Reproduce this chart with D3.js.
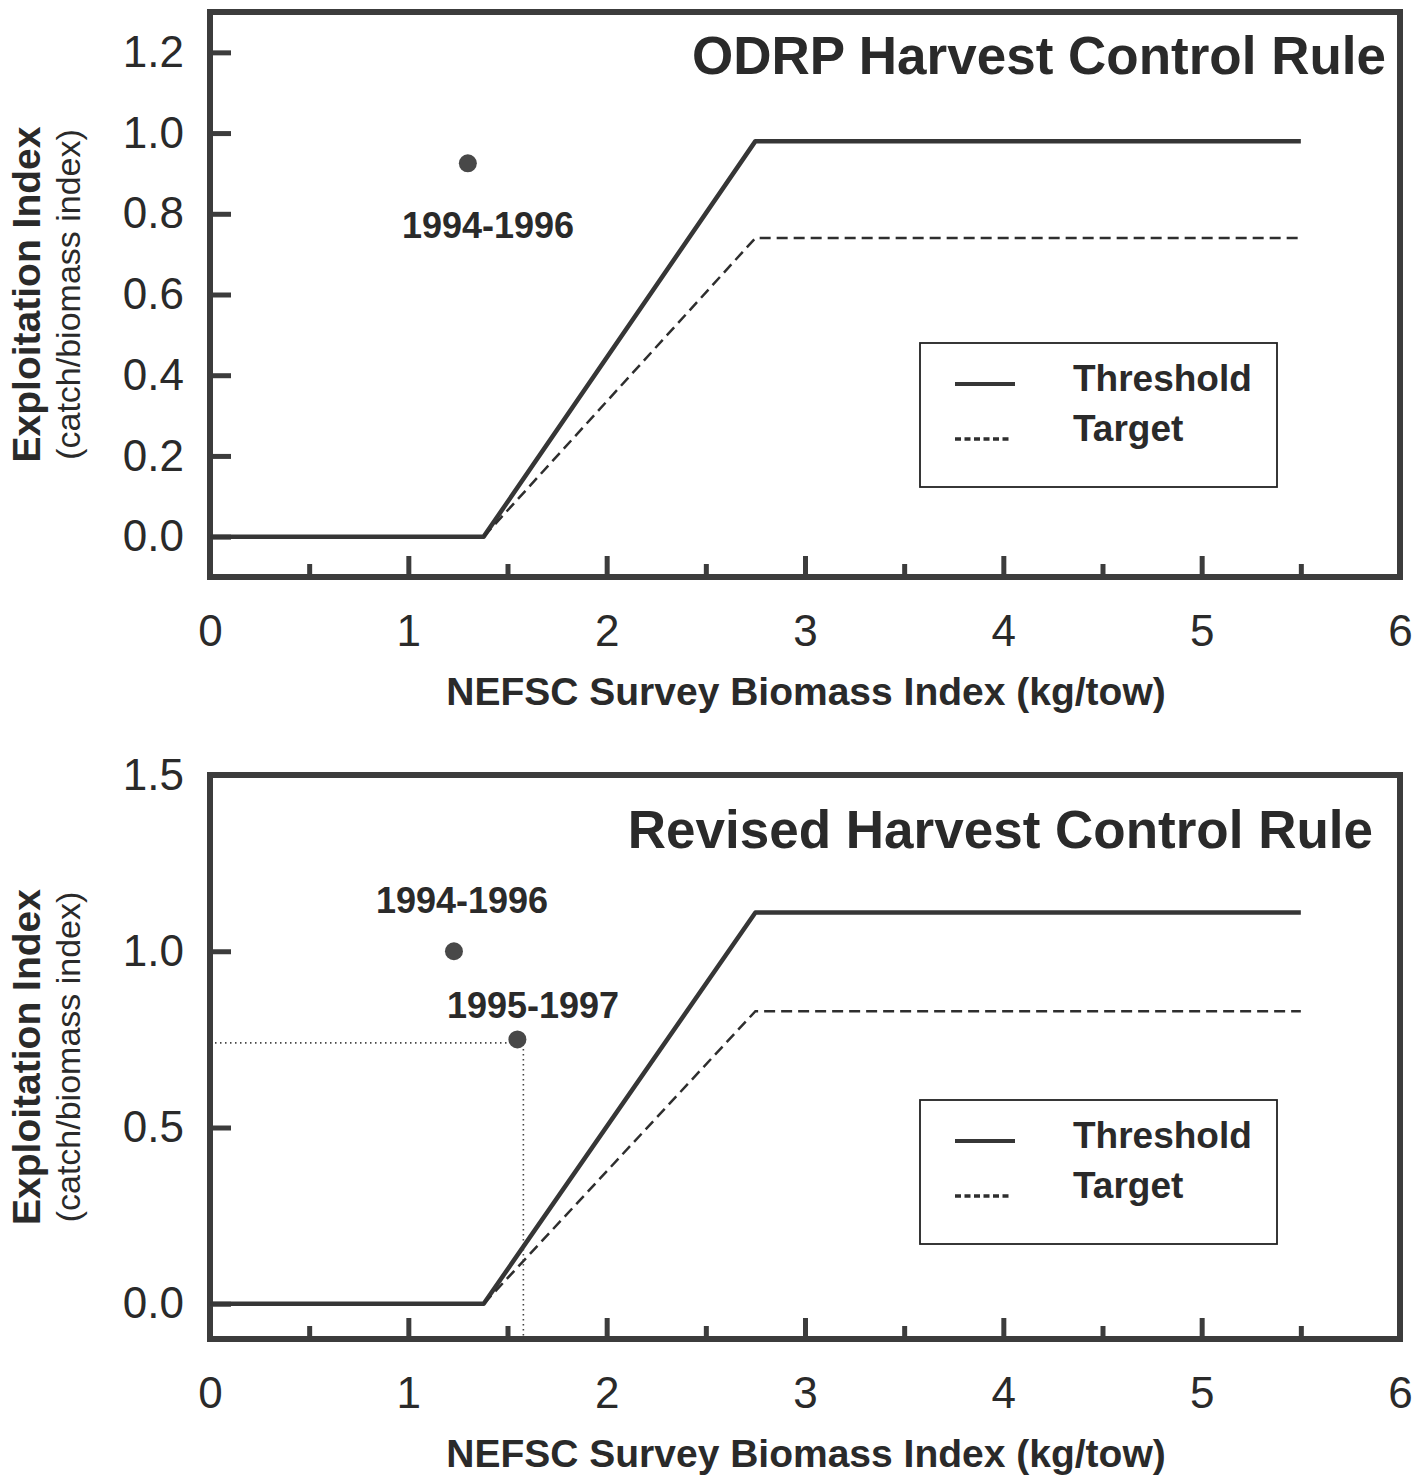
<!DOCTYPE html>
<html><head><meta charset="utf-8">
<script src="https://cdn.jsdelivr.net/npm/d3@7"></script>
<style>body{margin:0;background:#fff} svg{display:block}</style>
</head><body>
<svg id="chart" width="1426" height="1479"></svg>
<script>
// ---------- data ----------
const xMajorTicks = [0, 1, 2, 3, 4, 5, 6];
const xMinorTicks = [0.5, 1.5, 2.5, 3.5, 4.5, 5.5];
const xTickLabels = ["0", "1", "2", "3", "4", "5", "6"];
const seriesNames = ["Threshold", "Target"];

// Panel 1 : ODRP
const odrpTitle = "ODRP Harvest Control Rule";
const odrpThresholdX = [0, 1.38, 2.75, 5.5];
const odrpThresholdY = [0, 0, 0.98, 0.98];
const odrpTargetX = [1.38, 2.75, 5.5];
const odrpTargetY = [0, 0.74, 0.74];
const odrpPointLabels = ["1994-1996"];
const odrpPointX = [1.30];
const odrpPointY = [0.925];
const odrpYTicks = [0, 0.2, 0.4, 0.6, 0.8, 1.0, 1.2];
const odrpYTickLabels = ["0.0", "0.2", "0.4", "0.6", "0.8", "1.0", "1.2"];

// Panel 2 : Revised
const revTitle = "Revised Harvest Control Rule";
const revThresholdX = [0, 1.38, 2.75, 5.5];
const revThresholdY = [0, 0, 1.11, 1.11];
const revTargetX = [1.38, 2.75, 5.5];
const revTargetY = [0, 0.83, 0.83];
const revPointLabels = ["1994-1996", "1995-1997"];
const revPointX = [1.23, 1.55];
const revPointY = [1.0, 0.75];
const revRefX = [1.58];
const revRefY = [0.74];
const revYTicks = [0, 0.5, 1.0, 1.5];
const revYTickLabels = ["0.0", "0.5", "1.0", "1.5"];

const xLabel = "NEFSC Survey Biomass Index (kg/tow)";
const yLabel1 = "Exploitation Index";
const yLabel2 = "(catch/biomass index)";

// ---------- drawing ----------
const svg = d3.select("#chart");
const FONT = "'Liberation Sans', Arial, Helvetica, sans-serif";
const INK = "#2a2a2a";
const FRAME = "#3c3c3c";

function panel(cfg) {
  const x = d3.scaleLinear().domain([0, 6]).range([210, 1400]);
  const y = d3.scaleLinear().domain(cfg.yDomain).range([cfg.bottom, cfg.top]);
  const g = svg.append("g");

  // reference dotted lines
  if (cfg.refX) {
    cfg.refX.forEach((rx, i) => {
      const ry = cfg.refY[i];
      g.append("line").attr("x1", x(0)).attr("x2", x(rx) - 6)
        .attr("y1", y(ry)).attr("y2", y(ry))
        .attr("stroke", "#444").attr("stroke-width", 1.6).attr("stroke-dasharray", "1.5,3.5");
      g.append("line").attr("x1", x(rx)).attr("x2", x(rx))
        .attr("y1", y(ry) + 6).attr("y2", y(cfg.yDomain[0]))
        .attr("stroke", "#444").attr("stroke-width", 1.6).attr("stroke-dasharray", "1.5,3.5");
    });
  }

  // y axis ticks + labels
  const yAxis = d3.axisLeft(y).tickValues(cfg.yTicks)
    .tickFormat((d, i) => cfg.yTickLabels[i])
    .tickSizeInner(-21).tickSizeOuter(0).tickPadding(26);
  const ya = g.append("g").attr("transform", `translate(${x(0)},0)`).call(yAxis);
  ya.select(".domain").remove();
  ya.selectAll("line").attr("stroke", FRAME).attr("stroke-width", 5);
  ya.selectAll("text").attr("font-family", FONT).attr("font-size", 44).attr("fill", INK);

  // x axis major ticks + labels
  const xAxis = d3.axisBottom(x).tickValues(xMajorTicks)
    .tickFormat((d, i) => xTickLabels[i])
    .tickSizeInner(-21).tickSizeOuter(0).tickPadding(38);
  const xa = g.append("g").attr("transform", `translate(0,${y(cfg.yDomain[0])})`).call(xAxis);
  xa.select(".domain").remove();
  xa.selectAll("line").attr("stroke", FRAME).attr("stroke-width", 5);
  xa.selectAll("text").attr("font-family", FONT).attr("font-size", 44).attr("fill", INK);

  // minor x ticks
  const xMinor = d3.axisBottom(x).tickValues(xMinorTicks).tickFormat("")
    .tickSizeInner(-13).tickSizeOuter(0);
  const xm = g.append("g").attr("transform", `translate(0,${y(cfg.yDomain[0])})`).call(xMinor);
  xm.select(".domain").remove();
  xm.selectAll("line").attr("stroke", FRAME).attr("stroke-width", 5);

  // frame
  g.append("rect").attr("x", x(0)).attr("y", y(cfg.yDomain[1]))
    .attr("width", x(6) - x(0)).attr("height", y(cfg.yDomain[0]) - y(cfg.yDomain[1]))
    .attr("fill", "none").attr("stroke", FRAME).attr("stroke-width", 6);

  // lines
  const line = d3.line().x(d => x(d[0])).y(d => y(d[1]));
  g.append("path").datum(cfg.thX.map((v, i) => [v, cfg.thY[i]]))
    .attr("d", line).attr("fill", "none").attr("stroke", "#363636")
    .attr("stroke-width", 4.5).attr("stroke-linejoin", "round");
  g.append("path").datum(cfg.tgX.map((v, i) => [v, cfg.tgY[i]]))
    .attr("d", line).attr("fill", "none").attr("stroke", "#2e2e2e")
    .attr("stroke-width", 2.5).attr("stroke-dasharray", "11,6");

  // points
  cfg.ptX.forEach((px, i) => {
    g.append("circle").attr("cx", x(px)).attr("cy", y(cfg.ptY[i])).attr("r", 9)
      .attr("fill", "#484848");
    g.append("text").attr("x", cfg.ptLabelPos[i][0]).attr("y", cfg.ptLabelPos[i][1])
      .attr("text-anchor", "middle").attr("font-family", FONT).attr("font-weight", "bold")
      .attr("font-size", 36).attr("fill", INK).text(cfg.ptLabels[i]);
  });

  // title
  g.append("text").attr("x", cfg.titlePos[0]).attr("y", cfg.titlePos[1])
    .attr("text-anchor", "end").attr("font-family", FONT).attr("font-weight", "bold")
    .attr("font-size", 53).attr("fill", INK).text(cfg.title);

  // legend
  const L = g.append("g").attr("transform", `translate(920,${cfg.legendTop})`);
  L.append("rect").attr("x", 0).attr("y", 0).attr("width", 357).attr("height", 144)
    .attr("fill", "#fff").attr("stroke", "#222").attr("stroke-width", 1.8);
  L.append("line").attr("x1", 35).attr("x2", 95).attr("y1", 41).attr("y2", 41)
    .attr("stroke", "#363636").attr("stroke-width", 4);
  L.append("line").attr("x1", 35).attr("x2", 90).attr("y1", 96).attr("y2", 96)
    .attr("stroke", "#2e2e2e").attr("stroke-width", 3.5).attr("stroke-dasharray", "6,3.5");
  L.append("text").attr("x", 153).attr("y", 48).attr("font-family", FONT)
    .attr("font-weight", "bold").attr("font-size", 37).attr("fill", INK).text(seriesNames[0]);
  L.append("text").attr("x", 153).attr("y", 98).attr("font-family", FONT)
    .attr("font-weight", "bold").attr("font-size", 37).attr("fill", INK).text(seriesNames[1]);

  // axis titles
  g.append("text").attr("x", 806).attr("y", y(cfg.yDomain[0]) + 128)
    .attr("text-anchor", "middle").attr("font-family", FONT).attr("font-weight", "bold")
    .attr("font-size", 39).attr("fill", INK).text(xLabel);
  const cy = (cfg.top + cfg.bottom) / 2;
  g.append("text").attr("transform", `translate(40,${cy}) rotate(-90)`)
    .attr("text-anchor", "middle").attr("font-family", FONT).attr("font-weight", "bold")
    .attr("font-size", 39).attr("fill", INK).text(yLabel1);
  g.append("text").attr("transform", `translate(80,${cy}) rotate(-90)`)
    .attr("text-anchor", "middle").attr("font-family", FONT)
    .attr("font-size", 34).attr("fill", INK).text(yLabel2);
}

panel({
  yDomain: [-0.1, 1.3], top: 12, bottom: 577,
  yTicks: odrpYTicks, yTickLabels: odrpYTickLabels,
  thX: odrpThresholdX, thY: odrpThresholdY, tgX: odrpTargetX, tgY: odrpTargetY,
  ptX: odrpPointX, ptY: odrpPointY, ptLabels: odrpPointLabels,
  ptLabelPos: [[488, 238]],
  title: odrpTitle, titlePos: [1386, 74], legendTop: 343
});
panel({
  yDomain: [-0.1, 1.5], top: 775, bottom: 1339,
  yTicks: revYTicks, yTickLabels: revYTickLabels,
  thX: revThresholdX, thY: revThresholdY, tgX: revTargetX, tgY: revTargetY,
  ptX: revPointX, ptY: revPointY, ptLabels: revPointLabels,
  ptLabelPos: [[462, 913], [533, 1018]],
  refX: revRefX, refY: revRefY,
  title: revTitle, titlePos: [1373, 848], legendTop: 1100
});
</script>
</body></html>
